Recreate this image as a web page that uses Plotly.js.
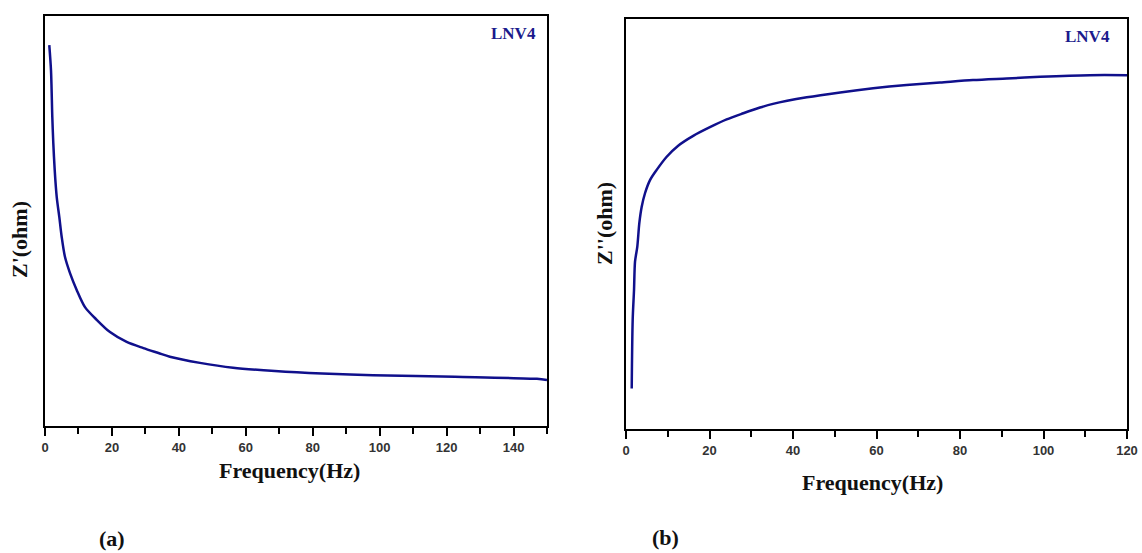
<!DOCTYPE html>
<html>
<head>
<meta charset="utf-8">
<script src="https://cdn.plot.ly/plotly-3.0.1.min.js"></script>
<style>html,body{margin:0;padding:0;background:#fff;}#chart{width:1142px;height:553px;}</style>
</head>
<body>
<div id="chart"></div>
<script>
// Panel (a): Z' vs frequency (arbitrary units, no y tick labels)
var freqA = [1.28, 1.79, 2.18, 2.48, 2.9, 3.5, 4.27, 4.99, 5.98, 7.47, 9.47, 11.95, 15.45, 19.42, 24.4, 29.4, 33.9, 37.3, 46.3, 56.2, 68.7, 82.8, 98.0, 122.5, 147, 150];
var zReal = [92.9, 86.8, 75.4, 69.0, 62.4, 55.9, 51.0, 46.1, 41.2, 37.3, 33.2, 29.0, 25.9, 22.9, 20.5, 19.0, 17.8, 16.9, 15.4, 14.2, 13.4, 12.8, 12.4, 12.0, 11.5, 11.2];
// Panel (b): Z'' vs frequency
var freqB = [1.37, 1.6, 1.92, 2.16, 2.71, 3.19, 3.76, 4.55, 5.75, 7.35, 9.75, 12.5, 16.1, 20.1, 24.1, 28.1, 32.1, 35.2, 43.3, 51.3, 59.2, 67.2, 75.2, 83.1, 91.2, 99.2, 111.1, 120];
var zImag = [9.9, 26.6, 33.9, 40.8, 44.5, 50.2, 54.2, 57.5, 60.7, 63.2, 66.4, 69.1, 71.5, 73.6, 75.5, 77.0, 78.4, 79.3, 80.9, 82.1, 83.1, 83.9, 84.5, 85.1, 85.5, 85.9, 86.3, 86.3];
var xTicksA = [0, 20, 40, 60, 80, 100, 120, 140];
var xTicksB = [0, 20, 40, 60, 80, 100, 120];
var sampleName = 'LNV4';

var lineColor = '#10108c';
var serif = 'Liberation Serif, Times New Roman, serif';
var sans = 'Liberation Sans, Arial, sans-serif';

var traces = [
  {x: freqA, y: zReal, type: 'scatter', mode: 'lines', line: {color: lineColor, width: 2.5, shape: 'spline', smoothing: 0.8}, xaxis: 'x', yaxis: 'y', hoverinfo: 'skip'},
  {x: freqB, y: zImag, type: 'scatter', mode: 'lines', line: {color: lineColor, width: 2.5, shape: 'spline', smoothing: 0.8}, xaxis: 'x2', yaxis: 'y2', hoverinfo: 'skip'}
];

function xAxis(domain, range, ticks, anchor) {
  return {
    domain: domain, range: range, anchor: anchor,
    tickvals: ticks, ticktext: ticks.map(String),
    ticks: 'outside', ticklen: 8, tickwidth: 2, tickcolor: '#000',
    minor: {dtick: 10, tick0: 0, ticks: 'outside', ticklen: 6, tickwidth: 2, tickcolor: '#000'},
    showline: true, linecolor: '#000', linewidth: 2, mirror: true,
    showgrid: false, zeroline: false,
    tickfont: {family: sans, size: 13, color: '#333', weight: 'bold'}
  };
}
function yAxis(domain, anchor) {
  return {
    domain: domain, range: [0, 100], anchor: anchor,
    showticklabels: false, ticks: '',
    showline: true, linecolor: '#000', linewidth: 2, mirror: true,
    showgrid: false, zeroline: false
  };
}

function ann(text, x, y, size, color, extra) {
  var a = {text: text, x: x / 1142, y: 1 - y / 553, xref: 'paper', yref: 'paper', showarrow: false,
    font: {family: serif, size: size, color: color || '#111', weight: 'bold'}, xanchor: 'center', yanchor: 'middle'};
  for (var k in extra) a[k] = extra[k];
  return a;
}

var layout = {
  width: 1142, height: 553,
  margin: {l: 0, r: 0, t: 0, b: 0},
  paper_bgcolor: '#fff', plot_bgcolor: '#fff',
  showlegend: false,
  xaxis: xAxis([45 / 1142, 547 / 1142], [0, 150], xTicksA, 'y'),
  yaxis: yAxis([1 - 426 / 553, 1 - 16 / 553], 'x'),
  xaxis2: xAxis([626 / 1142, 1127 / 1142], [0, 120], xTicksB, 'y2'),
  yaxis2: yAxis([1 - 429 / 553, 1 - 19 / 553], 'x2'),
  annotations: [
    ann('Frequency(Hz)', 289, 470, 22),
    ann('Frequency(Hz)', 872, 482, 22),
    ann("Z'(ohm)", 20, 240, 22, '#111', {textangle: -90}),
    ann("Z''(ohm)", 605, 224, 22, '#111', {textangle: -90}),
    ann('(a)', 112, 538, 22),
    ann('(b)', 665, 537, 22),
    ann(sampleName, 513, 33, 17, '#1a1a8c'),
    ann(sampleName, 1087, 36, 17, '#1a1a8c')
  ]
};

Plotly.newPlot('chart', traces, layout, {staticPlot: true, displayModeBar: false});
</script>
</body>
</html>
